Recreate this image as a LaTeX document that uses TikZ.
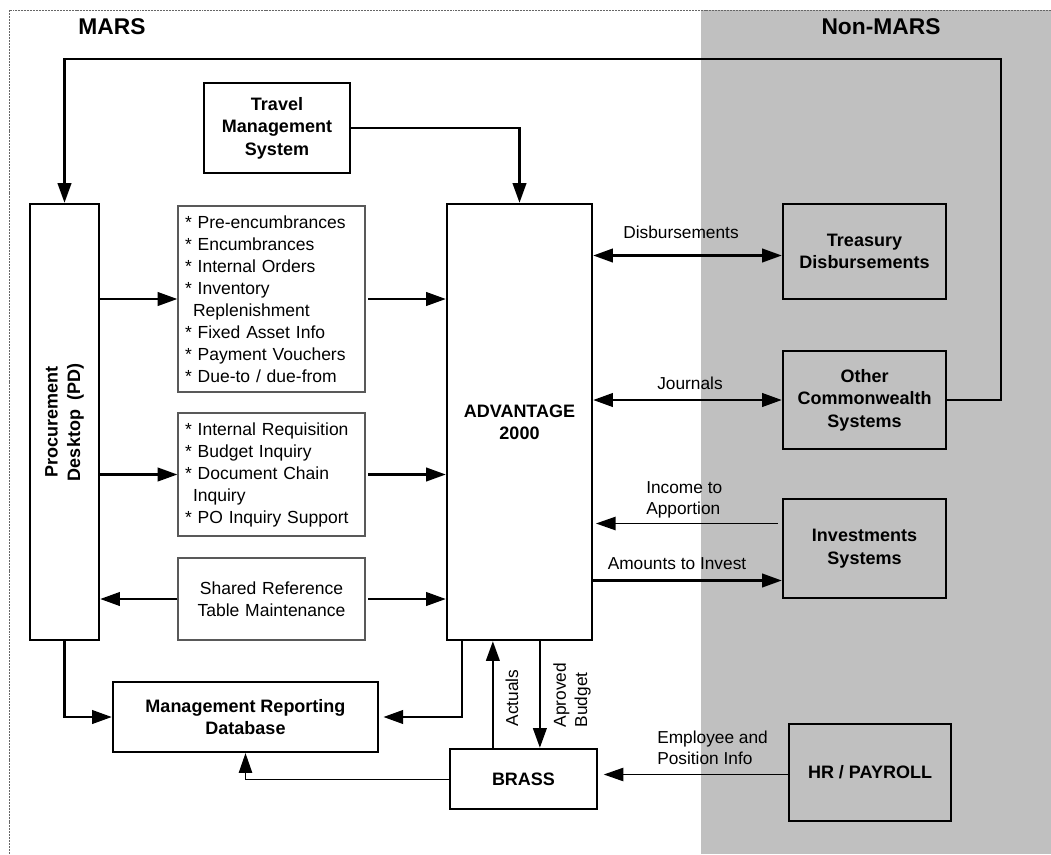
\documentclass[tikz,border=0pt]{standalone}
\usepackage{fontspec}
\setmainfont{Liberation Sans}
\usetikzlibrary{arrows.meta,calc}
\definecolor{nonmars}{HTML}{C0C0C0}

\begin{document}
\begin{tikzpicture}[x=0.025cm, y=-0.025cm, >={Triangle[length=14pt,width=9.5pt]},
    every node/.style={font=\fontsize{12.3}{15.2}\selectfont},
    boldtxt/.style={font=\bfseries\fontsize{12.8}{15.9}\selectfont, align=center},
    sys/.style={boldtxt, draw, line width=1.6pt, inner sep=0pt},
    info/.style={draw=black!65, line width=0.8pt, inner xsep=5pt, inner ysep=0pt, text width=123pt, align=left, font=\fontsize{12.45}{15.65}\selectfont},
    sz/.style 2 args={minimum width=#1*0.025cm, minimum height=#2*0.025cm},
    lbl/.style={inner sep=0pt},
    title/.style={font=\bfseries\fontsize{16.2}{19}\selectfont},
    flow/.style={line width=1.9pt, ->},
    midflow/.style={line width=1.1pt, ->},
    thinflow/.style={line width=0.7pt, ->},
    frame/.style={black!60, line width=0.6pt, dash pattern=on 1.4pt off 0.7pt}]
    \useasboundingbox (0,0) rectangle (1051,854);

    \fill[nonmars] (701,10) rectangle (1051,854);
    \draw[frame] (1051,10) -- (9,10) -- (9,854);

    \node[title] (mars) at (112,27) {MARS};
    \node[title] (nonmarslbl) at (881,27) {Non-MARS};

    \node[sys, sz={69}{436}] (pd) at (64.5,422) {};
    \node[boldtxt, rotate=90] (pdlbl) at (pd.center) {Procurement\\Desktop~~(PD)};
    \node[sys, sz={146}{90}] (travel) at (277,128) {Travel\\Management\\System};
    \node[sys, sz={145}{436}] (adv) at (519.5,422) {ADVANTAGE\\2000};

    \node[info, sz={187}{186}] (lista) at (271.5,299) {{*} Pre-encumbrances\\{*} Encumbrances\\{*} Internal Orders\\{*} Inventory\\\hspace*{5.7pt}Replenishment\\{*} Fixed Asset Info\\{*} Payment Vouchers\\{*} Due-to / due-from};
    \node[info, sz={187}{123}] (listb) at (271.5,474.5) {{*} Internal Requisition\\{*} Budget Inquiry\\{*} Document Chain\\\hspace*{5.7pt}Inquiry\\{*} PO Inquiry Support};
    \node[info, sz={187}{82}, align=center] (shared) at (271.5,599) {Shared Reference\\Table Maintenance};

    \node[sys, sz={265}{70}] (mrd) at (245.5,717) {Management Reporting\\Database};
    \node[sys, sz={147}{60}] (brass) at (523.5,779) {BRASS};

    \node[sys, sz={163}{95}] (treas) at (864.5,251.5) {Treasury\\Disbursements};
    \node[sys, sz={163}{98}] (other) at (864.5,400) {Other\\Commonwealth\\Systems};
    \node[sys, sz={163}{99}] (invest) at (864.5,548.5) {Investments\\Systems};
    \node[sys, sz={162}{97}] (hr) at (870,772.5) {HR / PAYROLL};

    \coordinate (rtop) at (1001,59);
    \draw[flow] (other.east) -| (rtop) -| (pd.north);
    \draw[flow] (travel.east) -| (adv.north);

    \draw[flow] (pd.east |- lista.west) -- (lista.west);
    \draw[flow] (pd.east |- listb.west) -- (listb.west);
    \draw[flow] (shared.west) -- (shared.west -| pd.east);
    \draw[flow, shorten <=2pt] (lista.east) -- (lista.east -| adv.west);
    \draw[flow, shorten <=2pt] (listb.east) -- (listb.east -| adv.west);
    \draw[flow, shorten <=2pt] (shared.east) -- (shared.east -| adv.west);

    \draw[flow] (pd.south) |- (mrd.west);
    \draw[flow, shorten >=3pt] ($(adv.south west)+(16,0)$) |- (mrd.east);
    \draw[thinflow] (brass.west) -| (mrd.south);

    \coordinate (act) at ($(brass.north west)+(44,0)$);
    \draw[flow] (act) -- (act |- adv.south);
    \coordinate (bud) at ($(adv.south west)+(94,0)$);
    \draw[flow] (bud) -- (bud |- brass.north);
    \node[lbl, rotate=90] (lbact) at (512,698) {Actuals};
    \node[lbl, rotate=90, align=left] (lbbud) at (572,695) {Aproved\\Budget};

    \coordinate (dis) at ($(treas.west)+(0,4)$);
    \draw[flow, <->] (dis -| adv.east) -- (dis);
    \draw[flow, <->] (other.west -| adv.east) -- (other.west);
    \coordinate (inc) at ($(invest.west)+(-4,-25)$);
    \draw[midflow, shorten >=2pt] (inc) -- (inc -| adv.east);
    \coordinate (amt) at ($(invest.west)+(0,32)$);
    \draw[flow] (amt -| adv.east) -- (amt);
    \coordinate (emp) at ($(hr.west)+(0,2)$);
    \draw[midflow, shorten >=4pt] (emp) -- (emp -| brass.east);

    \node[lbl] (lbdis) at (681,232) {Disbursements};
    \node[lbl] (lbjou) at (690,383) {Journals};
    \node[lbl, anchor=west, align=left] (lbinc) at (646,500) {Income to\\Apportion};
    \node[lbl] (lbamt) at (677,564) {Amounts to Invest};
    \node[lbl, anchor=west, align=left] (lbemp) at (657,748) {Employee and\\Position Info};
\end{tikzpicture}
\end{document}
